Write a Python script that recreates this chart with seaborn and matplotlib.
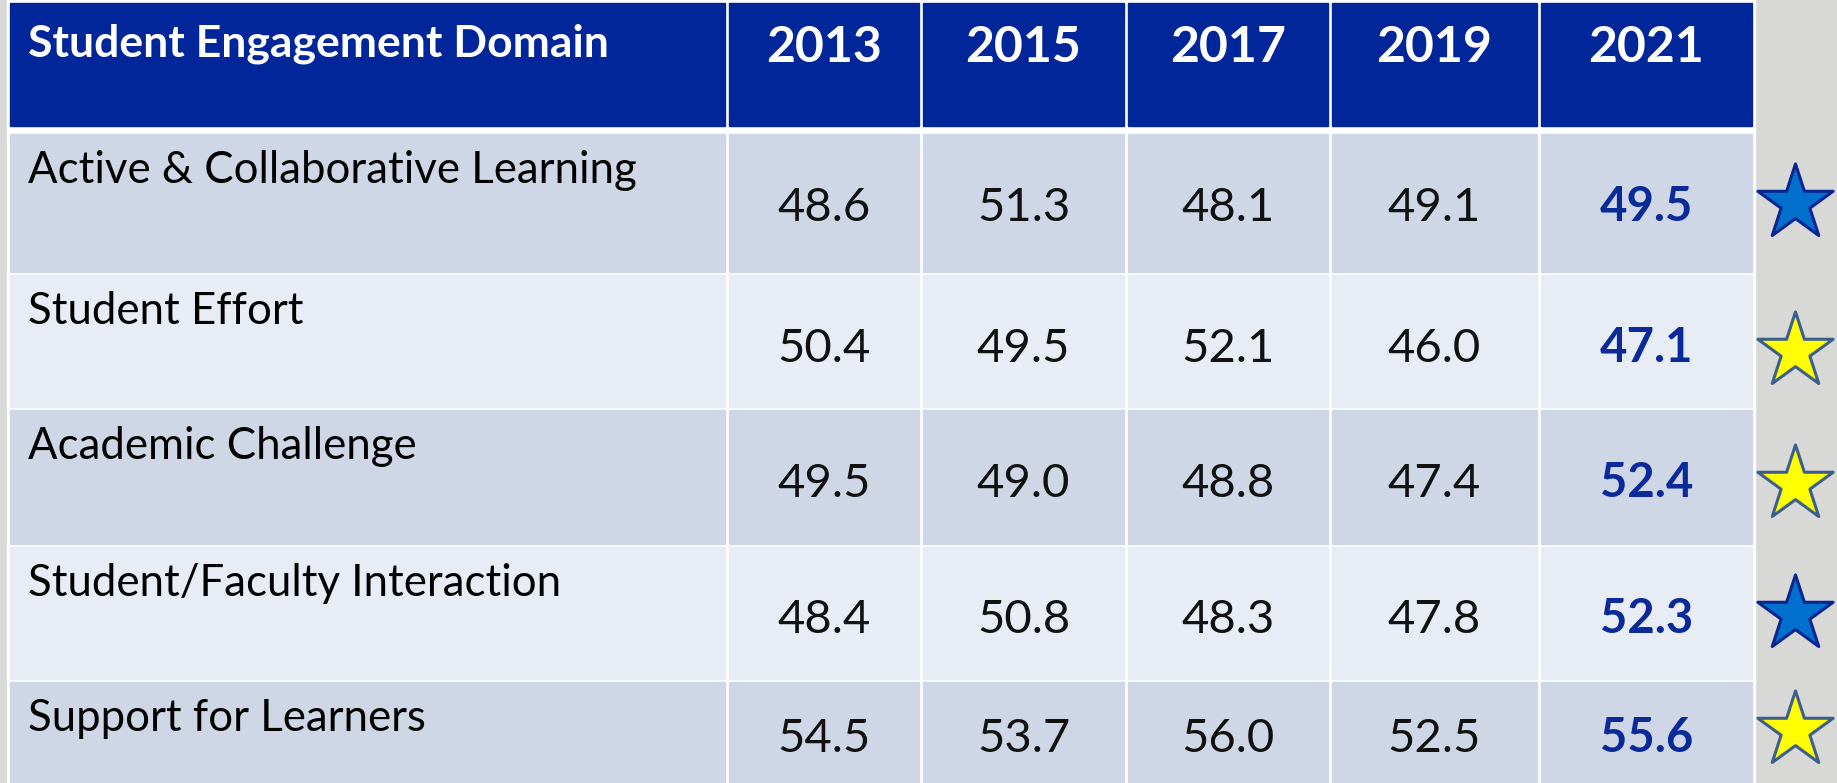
import matplotlib
matplotlib.use("Agg")
import matplotlib.pyplot as plt
from matplotlib.patches import Rectangle
import seaborn as sns
import pandas as pd

# table contents
domains = ["Active & Collaborative Learning", "Student Effort", "Academic Challenge",
           "Student/Faculty Interaction", "Support for Learners"]
years = ["2013", "2015", "2017", "2019", "2021"]
v2013 = [48.6, 50.4, 49.5, 48.4, 54.5]
v2015 = [51.3, 49.5, 49.0, 50.8, 53.7]
v2017 = [48.1, 52.1, 48.8, 48.3, 56.0]
v2019 = [49.1, 46.0, 47.4, 47.8, 52.5]
v2021 = [49.5, 47.1, 52.4, 52.3, 55.6]
star_kind = ["blue", "yellow", "yellow", "blue", "yellow"]

df = pd.DataFrame({"2013": v2013, "2015": v2015, "2017": v2017,
                   "2019": v2019, "2021": v2021}, index=domains)

sns.set_theme(style="white")
plt.rcParams["font.family"] = ["Lato", "DejaVu Sans"]

# layout in pixels
col_x = [(10, 725), (729, 919), (923, 1124), (1128, 1328), (1332, 1537), (1541, 1752)]
head_y = (3, 126)
row_y = [(134, 272), (275, 407), (410, 544), (547, 679), (682, 790)]
num_base = [221, 362, 497, 633, 752]   # baseline of the numbers in each row
star_y = [203, 351, 484, 614, 730]

header_col = "#002699"
row_cols = ["#CFD7E6", "#E8EDF5"]

fig = plt.figure(figsize=(18.37, 7.83), dpi=100)
fig.patch.set_facecolor("#d8d8d6")
ax = fig.add_axes([0, 0, 1, 1])

# white backing behind the cells
ax.add_patch(Rectangle((7, 0), 1755 - 7, 790, color="white", zorder=1))

# header
for (x0, x1) in col_x:
    ax.add_patch(Rectangle((x0, head_y[0]), x1 - x0, head_y[1] - head_y[0],
                           color=header_col, zorder=2))
ax.text(28, 56, "Student Engagement Domain", color="white", fontsize=32,
        fontweight="bold", ha="left", va="baseline", zorder=3)
for j, yr in enumerate(years):
    x0, x1 = col_x[j + 1]
    ax.text((x0 + x1) / 2, 62, yr, color="white", fontsize=36, fontweight="bold",
            ha="center", va="baseline", zorder=3)

# body rows
for i, dom in enumerate(domains):
    y0, y1 = row_y[i]
    fc = row_cols[i % 2]
    for (x0, x1) in col_x:
        ax.add_patch(Rectangle((x0, y0), x1 - x0, y1 - y0, color=fc, zorder=2))
    ax.text(28, y0 + 49, dom, color="black", fontsize=31.5, ha="left",
            va="baseline", zorder=3)
    for j, yr in enumerate(years):
        x0, x1 = col_x[j + 1]
        val = df.loc[dom, yr]
        if yr == "2021":
            ax.text((x0 + x1) / 2, num_base[i], f"{val:.1f}", color="#0A2A9A",
                    fontsize=34, fontweight="bold", ha="center", va="baseline", zorder=3)
        else:
            ax.text((x0 + x1) / 2, num_base[i], f"{val:.1f}", color="#111111",
                    fontsize=34, ha="center", va="baseline", zorder=3)

# stars next to the 2021 column
stars = pd.DataFrame({"x": [1795] * len(domains), "y": star_y, "kind": star_kind})
blue = stars[stars["kind"] == "blue"]
yellow = stars[stars["kind"] == "yellow"]
sns.scatterplot(data=blue, x="x", y="y", marker="*", s=57 ** 2, color="#0070CC",
                edgecolor="#0A2590", linewidth=2.2, ax=ax, zorder=4, legend=False)
sns.scatterplot(data=yellow, x="x", y="y", marker="*", s=57 ** 2, color="#FFFF00",
                edgecolor="#3C5F8C", linewidth=2.2, ax=ax, zorder=4, legend=False)
ax.set_xlim(0, 1837)
ax.set_ylim(783, 0)
ax.axis("off")

fig.savefig("out.png", dpi=100, facecolor=fig.get_facecolor())
